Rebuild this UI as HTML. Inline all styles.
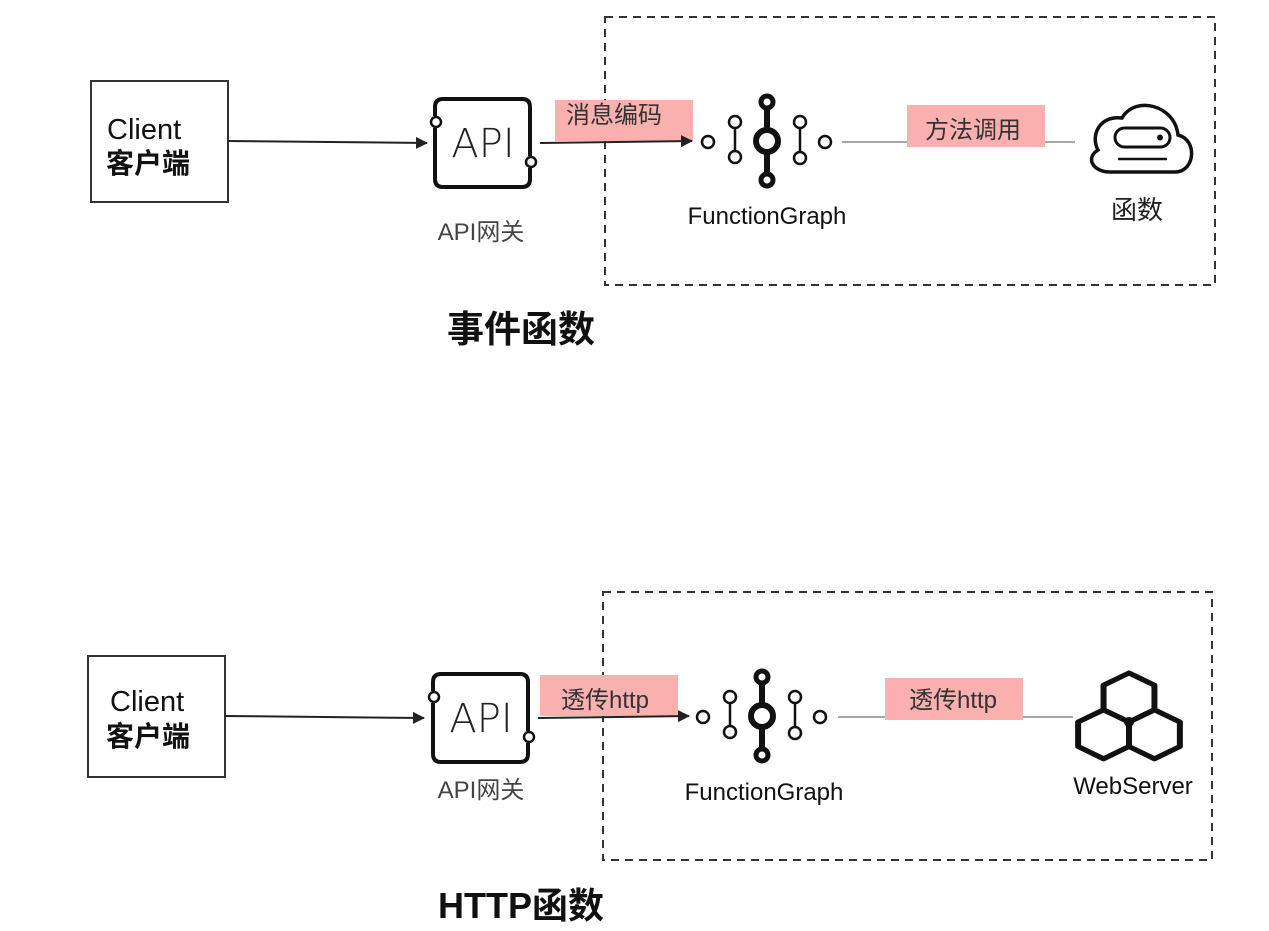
<!DOCTYPE html>
<html><head><meta charset="utf-8"><style>
html,body{margin:0;padding:0;background:#fff;}
svg{display:block;}
text{font-family:"Liberation Sans","Noto Sans CJK SC",sans-serif;}
</style></head><body>
<svg width="1269" height="931" viewBox="0 0 1269 931" xmlns="http://www.w3.org/2000/svg">
<defs>
<marker id="ar" markerWidth="12" markerHeight="12" refX="11" refY="6" orient="auto" markerUnits="userSpaceOnUse">
<path d="M0,0 L12,6 L0,12 Z" fill="#222"/></marker>
<g id="api">
<path d="M0,17 V8 Q0,0 8,0 H87 Q95,0 95,8 V57 M95,69 V80 Q95,88 87,88 H8 Q0,88 0,80 V29" fill="none" stroke="#111" stroke-width="4"/>
<circle cx="1" cy="23" r="5" fill="#fff" stroke="#111" stroke-width="2.5"/>
<circle cx="96" cy="63" r="5" fill="#fff" stroke="#111" stroke-width="2.5"/>
</g>
<g id="fg">
<line x1="0" y1="-39" x2="0" y2="39" stroke="#111" stroke-width="6"/>
<circle cx="0" cy="-39" r="6" fill="#fff" stroke="#111" stroke-width="5"/>
<circle cx="0" cy="39" r="6" fill="#fff" stroke="#111" stroke-width="5"/>
<circle cx="0" cy="0" r="11" fill="#fff" stroke="#111" stroke-width="6"/>
<circle cx="-59" cy="1" r="6" fill="#fff" stroke="#111" stroke-width="2.5"/>
<circle cx="58" cy="1" r="6" fill="#fff" stroke="#111" stroke-width="2.5"/>
<line x1="-32" y1="-13" x2="-32" y2="10" stroke="#111" stroke-width="2.5"/>
<circle cx="-32" cy="-19" r="6" fill="#fff" stroke="#111" stroke-width="2.5"/>
<circle cx="-32" cy="16" r="6" fill="#fff" stroke="#111" stroke-width="2.5"/>
<line x1="33" y1="-13" x2="33" y2="10" stroke="#111" stroke-width="2.5"/>
<circle cx="33" cy="-19" r="6" fill="#fff" stroke="#111" stroke-width="2.5"/>
<circle cx="33" cy="17" r="6" fill="#fff" stroke="#111" stroke-width="2.5"/>
</g>
</defs>

<!-- TOP -->
<rect x="605" y="17" width="610" height="268" fill="none" stroke="#333" stroke-width="2" stroke-dasharray="8,6"/>
<rect x="91" y="81" width="137" height="121" fill="none" stroke="#333" stroke-width="2"/>
<text x="107" y="139" font-size="29" fill="#111">Client</text>
<text x="106" y="173" font-size="28" font-weight="bold" fill="#111">客户端</text>
<line x1="228" y1="141" x2="427" y2="143" stroke="#222" stroke-width="2" marker-end="url(#ar)"/>
<use href="#api" x="435" y="99"/>
<text x="483" y="157" font-size="40" fill="#222" text-anchor="middle" style="font-family:'DejaVu Sans',sans-serif;font-weight:200">API</text>
<text x="481" y="240" font-size="24" fill="#444" text-anchor="middle">API网关</text>
<rect x="555" y="100" width="138" height="41" fill="#fbb0b0"/>
<text x="566" y="123" font-size="24" fill="#333">消息编码</text>
<line x1="540" y1="143" x2="692" y2="141" stroke="#222" stroke-width="2" marker-end="url(#ar)"/>
<use href="#fg" x="767" y="141"/>
<text x="767" y="224" font-size="24" fill="#111" text-anchor="middle">FunctionGraph</text>
<line x1="842" y1="142" x2="1075" y2="142" stroke="#888" stroke-width="1.5"/>
<rect x="907" y="105" width="138" height="42" fill="#fbb0b0"/>
<text x="925" y="138" font-size="24" fill="#333">方法调用</text>
<path d="M1110,172 H1175 C1195,172 1198,140 1178,135 C1175,105 1135,95 1122,118 C1100,115 1090,135 1098,150 C1085,158 1093,172 1110,172 Z" fill="none" stroke="#111" stroke-width="3.5"/>
<rect x="1115" y="128" width="55" height="19" rx="9.5" fill="none" stroke="#111" stroke-width="3"/>
<circle cx="1160" cy="137.5" r="3" fill="#111"/>
<line x1="1118" y1="159" x2="1167" y2="159" stroke="#111" stroke-width="2.5"/>
<text x="1137" y="219" font-size="26" fill="#222" text-anchor="middle">函数</text>
<text x="447" y="342" font-size="37" font-weight="bold" fill="#111">事件函数</text>

<!-- BOTTOM -->
<rect x="603" y="592" width="609" height="268" fill="none" stroke="#333" stroke-width="2" stroke-dasharray="8,6"/>
<rect x="88" y="656" width="137" height="121" fill="none" stroke="#333" stroke-width="2"/>
<text x="110" y="711" font-size="29" fill="#111">Client</text>
<text x="106" y="746" font-size="28" font-weight="bold" fill="#111">客户端</text>
<line x1="225" y1="716" x2="424" y2="718" stroke="#222" stroke-width="2" marker-end="url(#ar)"/>
<use href="#api" x="433" y="674"/>
<text x="481" y="732" font-size="40" fill="#222" text-anchor="middle" style="font-family:'DejaVu Sans',sans-serif;font-weight:200">API</text>
<text x="481" y="798" font-size="24" fill="#444" text-anchor="middle">API网关</text>
<rect x="540" y="675" width="138" height="41" fill="#fbb0b0"/>
<text x="561" y="708" font-size="24" fill="#333">透传http</text>
<line x1="538" y1="718" x2="689" y2="716" stroke="#222" stroke-width="2" marker-end="url(#ar)"/>
<use href="#fg" x="762" y="716"/>
<text x="764" y="800" font-size="24" fill="#111" text-anchor="middle">FunctionGraph</text>
<line x1="838" y1="717" x2="1073" y2="717" stroke="#888" stroke-width="1.5"/>
<rect x="885" y="678" width="138" height="42" fill="#fbb0b0"/>
<text x="909" y="708" font-size="24" fill="#333">透传http</text>
<g transform="translate(1129,722) scale(1.2,1)" fill="none" stroke="#111" stroke-width="5" stroke-linejoin="round">
<path d="M0,0 L-21.2,-12.2 L-21.2,-36.8 L0,-49 L21.2,-36.8 L21.2,-12.2 Z"/>
<path d="M0,0 L0,24.5 L-21.2,36.8 L-42.4,24.5 L-42.4,0 L-21.2,-12.2 Z"/>
<path d="M0,0 L0,24.5 L21.2,36.8 L42.4,24.5 L42.4,0 L21.2,-12.2 Z"/>
</g>
<circle cx="1129" cy="722" r="5" fill="#111"/>
<text x="1133" y="794" font-size="24" fill="#111" text-anchor="middle">WebServer</text>
<text x="438" y="918" font-size="36" font-weight="bold" fill="#111">HTTP函数</text>
</svg>
</body></html>
